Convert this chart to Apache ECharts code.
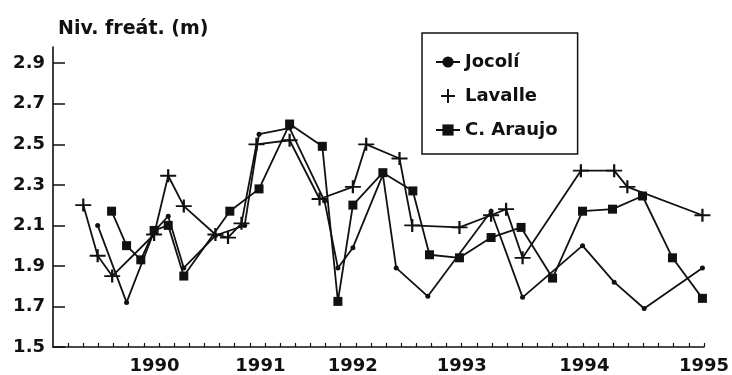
<!DOCTYPE html>
<html>
<head>
<meta charset="utf-8">
<script src="https://cdn.jsdelivr.net/npm/echarts@6/dist/echarts.min.js"></script>
<style>
html,body{margin:0;padding:0;background:#fff;}
#chart{width:732px;height:375px;}
</style>
</head>
<body>
<div id="chart"></div>
<script>
// x unit: sampling step (one per minor tick of the original axis)
const yearLabels = ['1990', '1991', '1992', '1993', '1994', '1995'];
const yearLabelPos = [6.7, 13.7, 19.8, 27.0, 35.1, 43.0];
const yTickValues = [1.5, 1.7, 1.9, 2.1, 2.3, 2.5, 2.7, 2.9];

const jocoliX = [2.95, 4.86, 6.68, 7.61, 8.64, 10.73, 12.66, 13.61, 15.63, 17.94, 18.82, 19.81, 21.79, 22.67, 24.76, 28.94, 31.02, 34.98, 37.07, 39.05, 42.90];
const jocoliY = [2.10, 1.72, 2.07, 2.145, 1.89, 2.05, 2.10, 2.55, 2.58, 2.22, 1.89, 1.99, 2.35, 1.89, 1.75, 2.17, 1.745, 2.00, 1.82, 1.69, 1.89];

const lavalleX = [2.00, 2.95, 3.91, 6.68, 7.61, 8.64, 10.73, 11.56, 12.45, 13.44, 15.63, 17.61, 19.81, 20.69, 22.89, 23.73, 26.85, 28.94, 29.93, 31.02, 34.87, 37.07, 37.94, 42.90];
const lavalleY = [2.20, 1.95, 1.85, 2.055, 2.345, 2.195, 2.055, 2.04, 2.11, 2.50, 2.52, 2.23, 2.29, 2.50, 2.43, 2.10, 2.09, 2.15, 2.18, 1.94, 2.37, 2.37, 2.29, 2.15];

const araujoX = [3.87, 4.86, 5.80, 6.68, 7.61, 8.64, 11.68, 13.61, 15.63, 17.79, 18.82, 19.81, 21.79, 23.77, 24.87, 26.85, 28.94, 30.92, 33.00, 34.98, 36.96, 38.94, 40.92, 42.90];
const araujoY = [2.17, 2.00, 1.93, 2.075, 2.10, 1.85, 2.17, 2.28, 2.60, 2.49, 1.725, 2.20, 2.36, 2.27, 1.955, 1.94, 2.04, 2.09, 1.84, 2.17, 2.18, 2.245, 1.94, 1.74];

const seriesNames = ['Jocolí', 'Lavalle', 'C. Araujo'];
const titleText = 'Niv. freát. (m)';

function pairs(xs, ys) { return xs.map((x, i) => [x, ys[i]]); }

const xTickValues = [];
for (let i = 1; i <= 43; i++) xTickValues.push(i);

const plusPath = 'path://M0,4.3 H10 V5.7 H0 Z M4.3,0 H5.7 V10 H4.3 Z';
const FONT = 'DejaVu Sans';
const INK = '#111';

const chart = echarts.init(document.getElementById('chart'), null, {renderer: 'canvas'});
chart.setOption({
  animation: false,
  backgroundColor: '#fff',
  title: {
    text: titleText, left: 53, top: 15,
    textStyle: {fontFamily: FONT, fontWeight: 'bold', fontSize: 19, color: INK}
  },
  legend: {
    orient: 'vertical', left: 422, top: 33,
    padding: [20, 20, 15, 13], itemGap: 16,
    itemWidth: 24, itemHeight: 14,
    borderColor: INK, borderWidth: 1.5,
    textStyle: {fontFamily: FONT, fontWeight: 'bold', fontSize: 18, color: INK},
    data: [
      {name: seriesNames[0]},
      {name: seriesNames[1], icon: plusPath},
      {name: seriesNames[2]}
    ]
  },
  grid: {left: 53, right: 27, top: 47, bottom: 25, containLabel: false},
  xAxis: {
    type: 'value', min: 0, max: 43,
    axisLine: {show: true, lineStyle: {color: INK, width: 1.6}},
    axisTick: {show: true, inside: true, length: 4, customValues: xTickValues, lineStyle: {color: INK, width: 1.2}},
    axisLabel: {
      customValues: yearLabelPos, margin: 10,
      formatter: (v) => { const i = yearLabelPos.findIndex(p => Math.abs(p - v) < 1e-6); return i >= 0 ? yearLabels[i] : ''; },
      fontFamily: FONT, fontWeight: 'bold', fontSize: 18, color: INK
    },
    splitLine: {show: false}
  },
  yAxis: {
    type: 'value', min: 1.5, max: 2.98,
    axisLine: {show: true, lineStyle: {color: INK, width: 1.6}},
    axisTick: {show: true, inside: true, length: 12, customValues: yTickValues, lineStyle: {color: INK, width: 1.5}},
    axisLabel: {
      customValues: yTickValues, margin: 8,
      formatter: (v) => v.toFixed(1),
      fontFamily: FONT, fontWeight: 'bold', fontSize: 18, color: INK
    },
    splitLine: {show: false}
  },
  series: [
    {
      name: seriesNames[0], type: 'line', data: pairs(jocoliX, jocoliY),
      symbol: 'circle', symbolSize: 5,
      lineStyle: {color: INK, width: 1.8}, itemStyle: {color: INK}
    },
    {
      name: seriesNames[1], type: 'line', data: pairs(lavalleX, lavalleY),
      symbol: plusPath, symbolSize: [16, 13],
      lineStyle: {color: INK, width: 1.8}, itemStyle: {color: INK}
    },
    {
      name: seriesNames[2], type: 'line', data: pairs(araujoX, araujoY),
      symbol: 'rect', symbolSize: 9,
      lineStyle: {color: INK, width: 1.8}, itemStyle: {color: INK}
    }
  ]
});
</script>
</body>
</html>
